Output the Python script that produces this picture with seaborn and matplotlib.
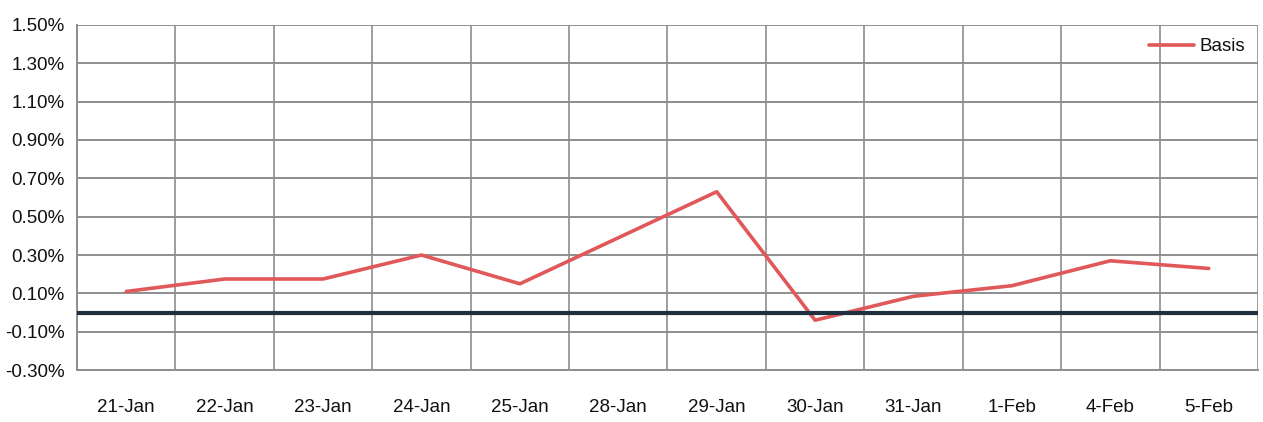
import numpy as np
import pandas as pd
import matplotlib.pyplot as plt
import matplotlib.ticker as mticker
from matplotlib import font_manager
import seaborn as sns

# Basis values (in %)
dates = ["21-Jan", "22-Jan", "23-Jan", "24-Jan", "25-Jan", "28-Jan",
         "29-Jan", "30-Jan", "31-Jan", "1-Feb", "4-Feb", "5-Feb"]
basis = [0.11, 0.175, 0.175, 0.30, 0.15, 0.39, 0.63, -0.04, 0.085, 0.14, 0.27, 0.23]
y_ticks = [-0.30, -0.10, 0.10, 0.30, 0.50, 0.70, 0.90, 1.10, 1.30, 1.50]

df = pd.DataFrame({"Date": dates, "Basis": basis})

sns.set_style("white")

# narrow font if it is there, else plain Liberation Sans a bit smaller
names = {f.name for f in font_manager.fontManager.ttflist}
if "Liberation Sans Narrow" in names:
    plt.rcParams['font.family'] = ['Liberation Sans Narrow', 'DejaVu Sans']
    fs = 16
else:
    plt.rcParams['font.family'] = ['Liberation Sans', 'DejaVu Sans']
    fs = 13.5

fig = plt.figure(figsize=(12.63, 4.22), dpi=100)
ax = fig.add_axes([0.061, 0.123, 0.935, 0.818])

sns.lineplot(data=df, x="Date", y="Basis", ax=ax, color="#E0585A", linewidth=2.6,
             label="Basis", sort=False)
ax.axhline(0, color="#1F3140", linewidth=3, zorder=3)

ax.set_xlim(-0.5, len(dates) - 0.5)
ax.set_ylim(-0.30, 1.50)
ax.set_yticks(y_ticks)
ax.yaxis.set_major_formatter(mticker.FuncFormatter(lambda v, p: f"{v:.2f}%"))
ax.set_xticks(range(len(dates)))
ax.set_xticklabels(dates)
ax.set_xticks(np.arange(-0.5, len(dates), 1), minor=True)

ax.grid(True, axis="y", which="major", color="#8E8E8E", linewidth=1.4)
ax.grid(True, axis="x", which="minor", color="#8E8E8E", linewidth=1.2)
ax.grid(False, axis="x", which="major")
ax.tick_params(axis="y", which="major", length=6, color="#8E8E8E", width=1.4,
               labelsize=fs, pad=3, labelcolor="#111111")
ax.tick_params(axis="x", which="major", length=0, labelsize=fs, pad=21,
               labelcolor="#111111")
ax.tick_params(axis="x", which="minor", length=0)
ax.set_xlabel("")
ax.set_ylabel("")

for s in ["top", "right"]:
    ax.spines[s].set_visible(False)
for s in ["left", "bottom"]:
    ax.spines[s].set_color("#8E8E8E")
    ax.spines[s].set_linewidth(1.4)

leg = ax.legend(loc="upper right", frameon=False, fontsize=fs, handlelength=2.4,
                handletextpad=0.3, borderaxespad=0.3)
for t in leg.get_texts():
    t.set_color("#111111")

plt.savefig("out.png", dpi=100)
